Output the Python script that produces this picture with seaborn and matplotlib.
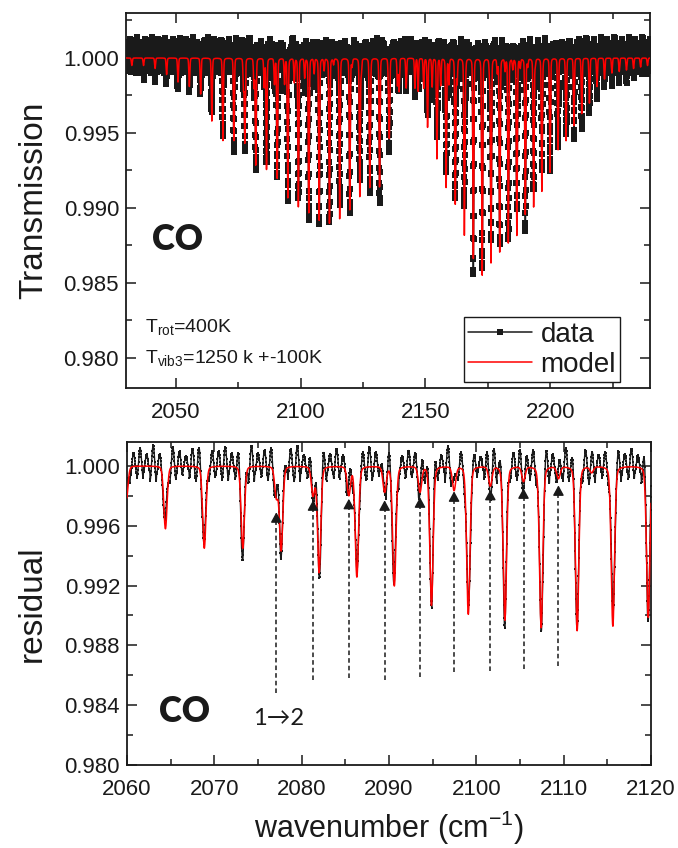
import numpy as np
import pandas as pd
import matplotlib
matplotlib.use('Agg')
import matplotlib.pyplot as plt
from matplotlib.ticker import MultipleLocator, FormatStrFormatter
import seaborn as sns

# CO v=0->1 lines: centre (cm-1), model minimum, data minimum
main_centre = [2032.35, 2037.03, 2041.67, 2046.28, 2050.85, 2055.40, 2059.91, 2064.40,
               2068.85, 2073.26, 2077.65, 2082.00, 2086.32, 2090.61, 2094.86, 2099.08,
               2103.27, 2107.42, 2111.54, 2115.63, 2119.68, 2123.70, 2127.68, 2131.63,
               2135.55, 2139.43,
               2147.08, 2150.86, 2154.60, 2158.30, 2161.97, 2165.60, 2169.20, 2172.76,
               2176.28, 2179.77, 2183.22, 2186.64, 2190.02, 2193.36, 2196.66, 2199.93,
               2203.16, 2206.36, 2209.52, 2212.64, 2215.72, 2218.76, 2221.77, 2224.74,
               2227.67, 2230.56, 2233.41, 2236.23, 2239.00]
main_model_min = [0.9995, 0.9995, 0.9993, 0.9989, 0.9984, 0.9981, 0.9976, 0.9958,
                  0.9945, 0.9945, 0.9944, 0.9929, 0.9926, 0.9920, 0.9907, 0.9901,
                  0.9897, 0.9892, 0.9890, 0.9893, 0.9899, 0.9908, 0.9917, 0.9928,
                  0.9950, 0.9978,
                  0.9978, 0.9954, 0.9933, 0.9914, 0.9903, 0.9884, 0.9878, 0.9860,
                  0.9864, 0.9871, 0.9877, 0.9882, 0.9896, 0.9901, 0.9912, 0.9924,
                  0.9939, 0.9945, 0.9955, 0.9963, 0.9970, 0.9981, 0.9986, 0.9990,
                  0.9991, 0.9992, 0.9993, 0.9994, 0.9995]
main_data_min = [0.9993, 0.9993, 0.9991, 0.9988, 0.9977, 0.9973, 0.9971, 0.9958,
                 0.9945, 0.9938, 0.9943, 0.9928, 0.9923, 0.9916, 0.9912, 0.9897,
                 0.9894, 0.9887, 0.9890, 0.9897, 0.9901, 0.9908, 0.9913, 0.9924,
                 0.9945, 0.9972,
                 0.9975, 0.9957, 0.9941, 0.9912, 0.9898, 0.9899, 0.9875, 0.9869,
                 0.9870, 0.9878, 0.9880, 0.9891, 0.9888, 0.9908, 0.9924, 0.9933,
                 0.9932, 0.9943, 0.9953, 0.9957, 0.9969, 0.9978, 0.9985, 0.9988,
                 0.9990, 0.9991, 0.9992, 0.9993, 0.9994]

# v=1->2 hot band lines (same in model and data)
hot_centre = [2077.10, 2081.30, 2085.40, 2089.50, 2093.55, 2097.45, 2101.60, 2105.40,
              2109.40, 2113.20,
              2120.60, 2124.30, 2128.00, 2131.60, 2135.20, 2138.80, 2142.30, 2145.80,
              2149.30, 2152.70, 2156.10, 2159.40, 2162.70, 2166.00, 2169.30, 2172.50,
              2175.70, 2178.80, 2181.90, 2185.00, 2188.00, 2191.00, 2194.00, 2197.00]
hot_depth = [0.0020, 0.0019, 0.0019, 0.0017, 0.0017, 0.0016, 0.0013, 0.0010,
             0.0008, 0.0004,
             0.0005, 0.0009, 0.0012, 0.0014, 0.0016, 0.0018, 0.0020, 0.0020,
             0.0020, 0.0019, 0.0018, 0.0017, 0.0016, 0.0014, 0.0013, 0.0011,
             0.0010, 0.0009, 0.0008, 0.0007, 0.0006, 0.0005, 0.0004, 0.0003]

# fringe ripple riding on the measured spectrum
fringe_period = 0.75
fringe_offset = 0.0002
fringe_amp = [0.0007, 0.0009, 0.0011, 0.0008, 0.0005, 0.0010, 0.0012, 0.0006,
              0.0009, 0.0008, 0.0011, 0.0007, 0.0010, 0.0006, 0.0012]

# dashed arrows marking the 1->2 lines in the lower panel
arrow_x = [2077.1, 2081.3, 2085.4, 2089.5, 2093.55, 2097.45, 2101.6, 2105.4, 2109.4]
arrow_tip = [0.9969, 0.9977, 0.9978, 0.9977, 0.9979, 0.9983, 0.9984, 0.9985, 0.9987]
arrow_base = [0.9848, 0.9857, 0.9858, 0.9857, 0.9859, 0.9862, 0.9863, 0.9864, 0.9866]

FWHM = 0.45


def spectrum(x, centres, depths):
    dx = (x[:, None] - np.asarray(centres)[None, :]) / FWHM
    shape = 0.8 * np.exp(-4 * np.log(2) * dx ** 2) + 0.2 / (1 + 4 * dx ** 2)
    return shape @ np.asarray(depths)


x_model = np.arange(2030, 2240.001, 0.01)
model = 1 - spectrum(x_model, main_centre, 1 - np.array(main_model_min)) \
    - spectrum(x_model, hot_centre, hot_depth)

x_data = np.arange(2030, 2240.001, 0.035)
phase = (x_data - 2030) / fringe_period
k = np.floor(phase + 0.5).astype(int) % len(fringe_amp)
ripple = fringe_offset + np.array(fringe_amp)[k] * np.cos(2 * np.pi * phase)
data = 1 - spectrum(x_data, main_centre, 1 - np.array(main_data_min)) \
    - spectrum(x_data, hot_centre, hot_depth) + ripple

df_model = pd.DataFrame({'wn': x_model, 'T': model})
df_data = pd.DataFrame({'wn': x_data, 'T': data})

sns.set_theme(style='ticks')
plt.rcParams['font.family'] = ['Liberation Sans', 'DejaVu Sans']
plt.rcParams['mathtext.fontset'] = 'custom'
plt.rcParams['mathtext.rm'] = 'Liberation Sans'
plt.rcParams['mathtext.it'] = 'Liberation Sans:italic'
plt.rcParams['axes.linewidth'] = 1.3
for key in ('text.color', 'axes.labelcolor', 'xtick.color', 'ytick.color', 'axes.edgecolor'):
    plt.rcParams[key] = 'k'

fig = plt.figure(figsize=(6.78, 8.48), dpi=100)
ax1 = fig.add_axes([0.1858, 0.5425, 0.7729, 0.4422])
ax2 = fig.add_axes([0.1873, 0.0979, 0.7729, 0.3809])

# top panel
sns.lineplot(data=df_data, x='wn', y='T', ax=ax1, color='k', lw=1.1, marker='s',
             markersize=4.2, markeredgewidth=0, estimator=None, sort=False,
             label='data', zorder=2)
sns.lineplot(data=df_model, x='wn', y='T', ax=ax1, color='#ff0000', lw=1.1,
             estimator=None, sort=False, label='model', zorder=3)
ax1.set_xlim(2030, 2240)
ax1.set_ylim(0.978, 1.003)
ax1.xaxis.set_major_locator(MultipleLocator(50))
ax1.xaxis.set_minor_locator(MultipleLocator(25))
ax1.yaxis.set_major_locator(MultipleLocator(0.005))
ax1.yaxis.set_minor_locator(MultipleLocator(0.0025))
ax1.yaxis.set_major_formatter(FormatStrFormatter('%.3f'))
ax1.set_xlabel('')
ax1.set_ylabel('Transmission', fontsize=24, labelpad=10)
ax1.text(2040.3, 0.98718, 'CO', fontsize=25, fontweight='heavy', color='k',
         family=['Lato', 'DejaVu Sans'])
ax1.text(0.036, 0.150, r'T$_{\mathrm{rot}}$=400K', transform=ax1.transAxes, fontsize=14)
ax1.text(0.036, 0.0675, r'T$_{\mathrm{vib3}}$=1250 k +-100K', transform=ax1.transAxes,
         fontsize=14)
leg = ax1.legend(loc='lower right', bbox_to_anchor=(0.943, 0.016), fontsize=20,
                 frameon=True, fancybox=False, edgecolor='k', framealpha=1,
                 borderpad=0.15, handlelength=2.3, handletextpad=0.3,
                 labelspacing=0.15, borderaxespad=0)
leg.get_frame().set_linewidth(1.0)

# bottom panel
sns.lineplot(data=df_data, x='wn', y='T', ax=ax2, color='k', lw=1.0, marker='s',
             markersize=1.8, markeredgewidth=0, estimator=None, sort=False,
             legend=False, zorder=2)
sns.lineplot(data=df_model, x='wn', y='T', ax=ax2, color='#ff0000', lw=1.1,
             estimator=None, sort=False, legend=False, zorder=3)
ax2.set_xlim(2060, 2120)
ax2.set_ylim(0.980, 1.0016)
ax2.xaxis.set_major_locator(MultipleLocator(10))
ax2.xaxis.set_minor_locator(MultipleLocator(5))
ax2.yaxis.set_major_locator(MultipleLocator(0.004))
ax2.yaxis.set_minor_locator(MultipleLocator(0.002))
ax2.yaxis.set_major_formatter(FormatStrFormatter('%.3f'))
ax2.set_xlabel(r'wavenumber (cm$^{-1}$)', fontsize=22, labelpad=6)
ax2.set_ylabel('residual', fontsize=24, labelpad=12)

for x, tip, base in zip(arrow_x, arrow_tip, arrow_base):
    ax2.vlines(x, base, tip - 0.0004, colors='k', linestyles=(0, (3, 2)), lw=1.1, zorder=4)
    ax2.annotate('', xy=(x, tip), xytext=(x, tip - 0.0006),
                 arrowprops=dict(arrowstyle='-|>,head_length=0.55,head_width=0.3',
                                 color='k', lw=1.0, mutation_scale=11,
                                 shrinkA=0, shrinkB=0), zorder=5)

ax2.text(2063.7, 0.98287, 'CO', fontsize=25, fontweight='heavy', color='k',
         family=['Lato', 'DejaVu Sans'])
ax2.text(2077.3, 0.9831, '1\u21922', ha='center', va='center', fontsize=17, color='k',
         family=['Lato', 'DejaVu Sans'])

for ax in (ax1, ax2):
    ax.tick_params(which='both', direction='in', top=True, right=True,
                   labelsize=16, width=1.1, color='k', labelcolor='k')
    ax.tick_params(which='major', length=7)
    ax.tick_params(which='minor', length=4)
    ax.tick_params(axis='x', pad=10)
    ax.tick_params(axis='y', pad=5)
    for s in ax.spines.values():
        s.set_color('k')

fig.savefig('out.png', dpi=100)
